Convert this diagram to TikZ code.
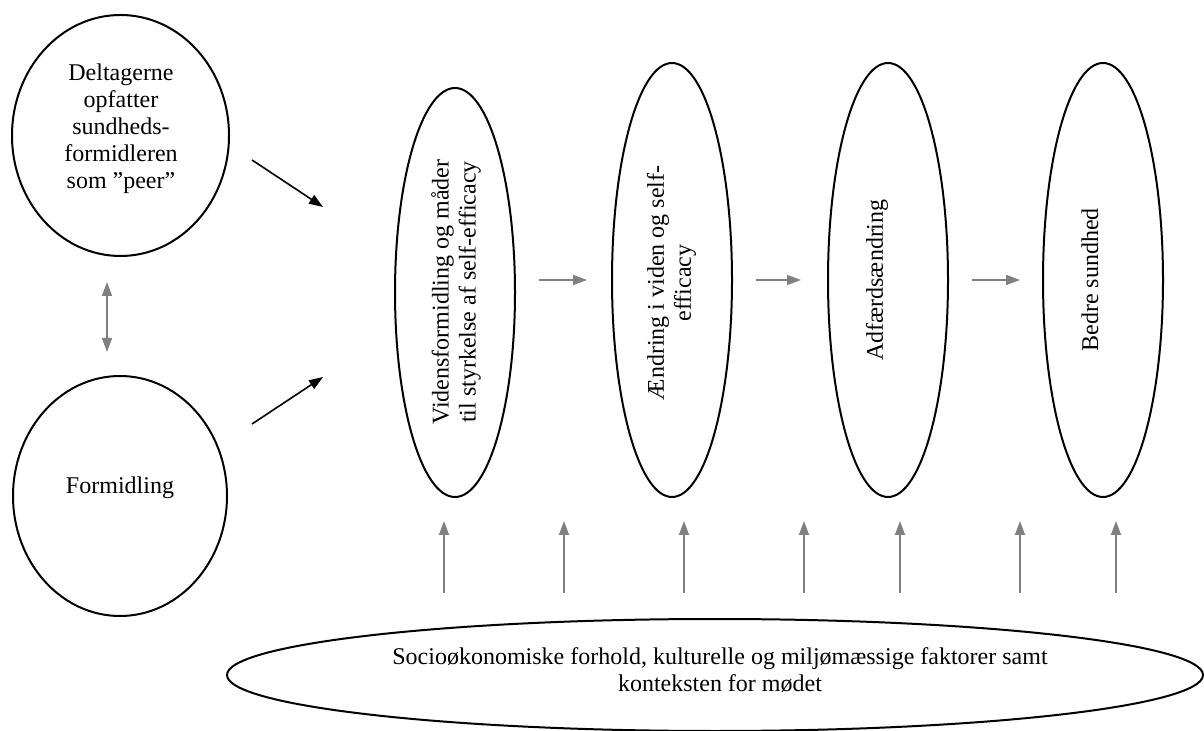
\documentclass[tikz,border=0pt]{standalone}
\usepackage{fontspec}
\setmainfont{Liberation Serif}
\usetikzlibrary{shapes.geometric,arrows.meta}
\begin{document}
\begin{tikzpicture}[x=0.5pt,y=-0.5pt,
  bub/.style={draw=black,line width=1pt,ellipse,inner sep=0pt},
  txt/.style={inner sep=0pt,align=center,font=\fontsize{12}{13.5}\selectfont},
  blk/.style={draw=black,line width=0.8pt,-{Triangle[length=7pt,width=5pt]}},
  gry/.style={draw=gray,line width=0.8pt,-{Triangle[length=7pt,width=5pt]}},
  gry2/.style={draw=gray,line width=0.8pt,{Triangle[length=7pt,width=5pt]}-{Triangle[length=7pt,width=5pt]}},
]
\fill[white] (0,0) rectangle (1204,731);
\useasboundingbox (0,0) rectangle (1204,731);

% left circles
\node[bub,minimum width=108.5pt,minimum height=120.5pt] (c1) at (120.5,135.5) {};
\node[txt] (t1) at (121,129) {Deltagerne\\opfatter\\sundheds-\\formidleren\\som ”peer”};
\node[bub,minimum width=107pt,minimum height=120pt] (c2) at (120,496) {};
\node[txt] (t2) at (120,488) {Formidling};

% vertical ellipses
\node[bub,minimum width=60pt,minimum height=204.5pt] (e1) at (455,292.5) {};
\node[txt,rotate=90] (te1) at (456,292) {Vidensformidling og måder\\til styrkelse af self-efficacy};
\node[bub,minimum width=60pt,minimum height=217pt] (e2) at (672,280) {};
\node[txt,rotate=90] (te2) at (671.5,283) {Ændring i viden og self-\\efficacy};
\node[bub,minimum width=60pt,minimum height=217pt] (e3) at (888,280) {};
\node[txt,rotate=90] (te3) at (877,280) {Adfærdsændring};
\node[bub,minimum width=60pt,minimum height=217pt] (e4) at (1103,280) {};
\node[txt,rotate=90] (te4) at (1090,280) {Bedre sundhed};

% bottom ellipse
\node[bub,minimum width=488pt,minimum height=56pt] (eb) at (715,675) {};
\node[txt] (tb) at (720,670) {Socioøkonomiske forhold, kulturelle og miljømæssige faktorer samt\\konteksten for mødet};

% coordinates for free connectors
\coordinate (a1s) at (252,160); \coordinate (a1e) at (323,207);
\coordinate (a2s) at (252,424); \coordinate (a2e) at (323,377);
\coordinate (dA) at (107,282); \coordinate (dB) at (107,352);
\coordinate (h1s) at (539,280); \coordinate (h1e) at (587,280);
\coordinate (h2s) at (756,280); \coordinate (h2e) at (801,280);
\coordinate (h3s) at (972,280); \coordinate (h3e) at (1020,280);

\draw[blk] (a1s) -- (a1e);
\draw[blk] (a2s) -- (a2e);
\draw[gry2] (dA) -- (dB);
\draw[gry] (h1s) -- (h1e);
\draw[gry] (h2s) -- (h2e);
\draw[gry] (h3s) -- (h3e);

\foreach \i/\xx in {1/444,2/564,3/684,4/804,5/900,6/1020,7/1116}{
  \coordinate (u\i s) at (\xx,593);
  \coordinate (u\i e) at (\xx,521);
  \draw[gry] (u\i s) -- (u\i e);
}
\end{tikzpicture}
\end{document}
